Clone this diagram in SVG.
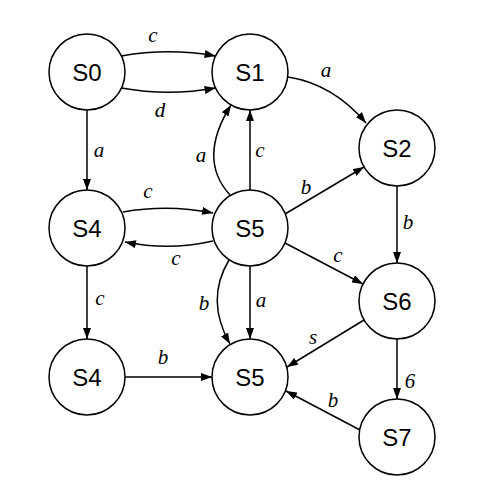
<svg xmlns="http://www.w3.org/2000/svg" width="500" height="500" viewBox="0 0 500 500">
<style>
.node circle{fill:#fff;stroke:#000;stroke-width:1.5}
.node text{font-family:"Liberation Sans",Arial,sans-serif;font-size:24px;text-anchor:middle;fill:#000}
.edge{fill:none;stroke:#000;stroke-width:1.5;marker-end:url(#arr)}
.lbl{font-family:"Liberation Serif","Times New Roman",serif;font-style:italic;font-size:21px;text-anchor:middle;fill:#000}
</style>
<defs>
<marker id="arr" markerUnits="userSpaceOnUse" markerWidth="11" markerHeight="8" refX="11" refY="4" orient="auto">
<path d="M0,0 L11,4 L0,8 z" fill="#000"/>
</marker>
</defs>
<rect width="500" height="500" fill="#fff"/>
<g id="connectors">
<path class="edge" d="M121.4,55.9 Q168.5,47.5 215.6,55.9"/>
<path class="edge" d="M121.4,88.1 Q168.5,96.5 215.6,88.1"/>
<path class="edge" d="M288,77 Q333,84 366,123"/>
<path class="edge" d="M87,110 L87,190"/>
<path class="edge" d="M123,212 Q168,204 213,213"/>
<path class="edge" d="M213,241 Q169,251 125,242"/>
<path class="edge" d="M87,266 L87,339"/>
<path class="edge" d="M125,377 L212,377"/>
<path class="edge" d="M250,190 L250,110"/>
<path class="edge" d="M230,195 Q197,159 231,105"/>
<path class="edge" d="M285,214 L364,167"/>
<path class="edge" d="M285,243 L363,284"/>
<path class="edge" d="M250,266 L250,339"/>
<path class="edge" d="M229,260 Q205,300 230,344"/>
<path class="edge" d="M397,186 L397,263"/>
<path class="edge" d="M364,320 L287,367"/>
<path class="edge" d="M397,339 L397,399"/>
<path class="edge" d="M360,430 L286,391"/>
<text class="lbl" x="153" y="42">c</text>
<text class="lbl" x="160" y="117">d</text>
<text class="lbl" x="326" y="77">a</text>
<text class="lbl" x="99" y="157">a</text>
<text class="lbl" x="148" y="198">c</text>
<text class="lbl" x="176" y="265">c</text>
<text class="lbl" x="201" y="162">a</text>
<text class="lbl" x="260" y="157">c</text>
<text class="lbl" x="306" y="194">b</text>
<text class="lbl" x="408" y="229">b</text>
<text class="lbl" x="100" y="305">c</text>
<text class="lbl" x="338" y="262">c</text>
<text class="lbl" x="204" y="310">b</text>
<text class="lbl" x="261" y="307">a</text>
<text class="lbl" x="313" y="344">s</text>
<text class="lbl" x="410" y="388">6</text>
<text class="lbl" x="163" y="364">b</text>
<text class="lbl" x="333" y="407">b</text>
</g>
<g id="S0" class="node"><circle cx="87" cy="72" r="38"/><text x="87" y="80.5">S0</text></g>
<g id="S1" class="node"><circle cx="250" cy="72" r="38"/><text x="250" y="80.5">S1</text></g>
<g id="S2" class="node"><circle cx="397" cy="148" r="38"/><text x="397" y="156.5">S2</text></g>
<g id="S4a" class="node"><circle cx="87" cy="228" r="38"/><text x="87" y="236.5">S4</text></g>
<g id="S5a" class="node"><circle cx="250" cy="228" r="38"/><text x="250" y="236.5">S5</text></g>
<g id="S6" class="node"><circle cx="397" cy="301" r="38"/><text x="397" y="309.5">S6</text></g>
<g id="S4b" class="node"><circle cx="87" cy="377" r="38"/><text x="87" y="385.5">S4</text></g>
<g id="S5b" class="node"><circle cx="250" cy="377" r="38"/><text x="250" y="385.5">S5</text></g>
<g id="S7" class="node"><circle cx="397" cy="437" r="38"/><text x="397" y="445.5">S7</text></g>
</svg>
